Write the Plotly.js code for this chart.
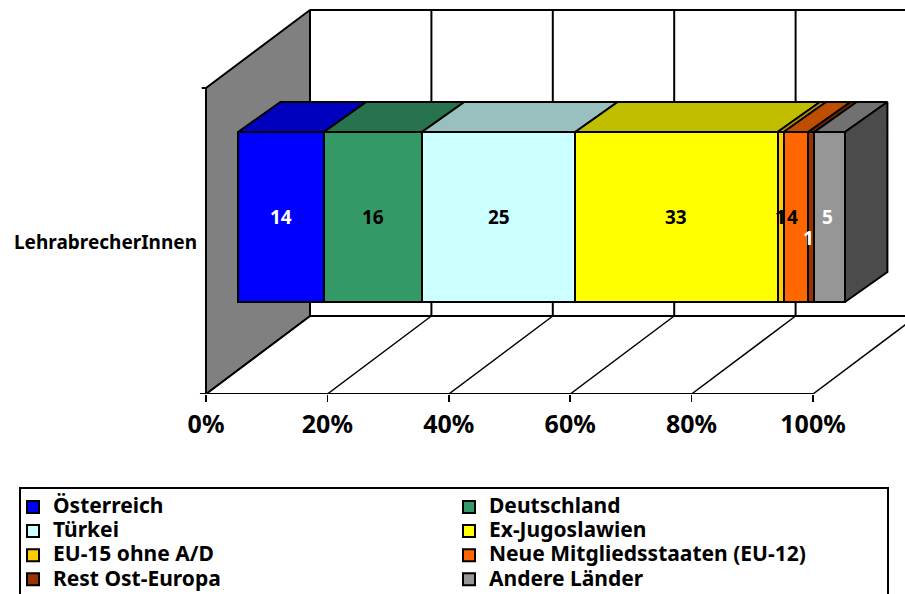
<!DOCTYPE html>
<html>
<head>
<meta charset="utf-8">
<script src="https://cdn.plot.ly/plotly-3.0.1.min.js"></script>
<style>html,body{margin:0;padding:0;background:#fff;overflow:hidden}</style>
</head>
<body>
<div id="chart" style="width:905px;height:594px"></div>
<script>
// Ausbildungsabbrecher nach Herkunft, als 100-%-Stapelbalken in Schrägprojektion
const groupLabel = 'LehrabrecherInnen';
const seriesNames = ['Österreich', 'Deutschland', 'Türkei', 'Ex-Jugoslawien',
  'EU-15 ohne A/D', 'Neue Mitgliedsstaaten (EU-12)', 'Rest Ost-Europa', 'Andere Länder'];
const seriesValues = [14, 16, 25, 33, 1, 4, 1, 5];
const seriesColors = ['#0000FF', '#339966', '#CCFFFF', '#FFFF00', '#FFCC00', '#FF6600', '#993300', '#969696'];
const labelColors = ['#FFFFFF', '#000000', '#000000', '#000000', '#000000', '#000000', '#FFFFFF', '#FFFFFF'];
const percentTicks = [0, 20, 40, 60, 80, 100];
const percentTickLabels = ['0%', '20%', '40%', '60%', '80%', '100%'];

const FONT = '"Noto Sans", sans-serif';
const W = 905, H = 594;
const X0 = 206, PX_PER_PCT = 6.07, FLOOR_Y = 394, WALL_H = 306;

// Verschiebung der Rückwand gegenüber der Vorderkante
const DEPTH_X = 104 / PX_PER_PCT, DEPTH_H = 78 / WALL_H;
// Lage des Balkens im Raum
const BAR_X = 32 / PX_PER_PCT, BAR_H0 = 92 / WALL_H, BAR_H1 = 262 / WALL_H;
const BAR_DX = 42.4 / PX_PER_PCT, BAR_DH = 30 / WALL_H;

const xRange = [-X0 / PX_PER_PCT, (W - X0) / PX_PER_PCT];
const yRange = [0, FLOOR_Y / WALL_H];

const shade = (hex, f) => {
  const n = parseInt(hex.slice(1), 16);
  const c = [n >> 16, (n >> 8) & 255, n & 255].map(v => Math.round(v * f));
  return `rgb(${c[0]},${c[1]},${c[2]})`;
};
const line = (w) => ({color: '#000', width: w});
const base = {hoverinfo: 'skip', showlegend: false, xaxis: 'x', yaxis: 'y', type: 'scatter', mode: 'lines'};

const total = seriesValues.reduce((a, b) => a + b, 0);
const shares = seriesValues.map(v => v / total * 100);
const edges = [0];
shares.forEach(s => edges.push(edges[edges.length - 1] + s));

const traces = [];

// Seitenwand links
traces.push({...base, x: [0, 0, DEPTH_X, DEPTH_X, 0], y: [0, 1, 1 + DEPTH_H, DEPTH_H, 0],
  fill: 'toself', fillcolor: '#808080', line: line(2)});

// Gitterlinien auf Boden und Rückwand
const floorX = [], floorY = [], backX = [], backY = [];
percentTicks.forEach(p => {
  floorX.push(p, p + DEPTH_X, null); floorY.push(0, DEPTH_H, null);
  if (p > 0) { backX.push(p + DEPTH_X, p + DEPTH_X, null); backY.push(DEPTH_H, 1 + DEPTH_H, null); }
});
traces.push({...base, x: floorX, y: floorY, line: line(1.5)});
traces.push({...base, x: backX, y: backY, line: line(2)});
traces.push({...base, x: [DEPTH_X, xRange[1]], y: [DEPTH_H, DEPTH_H], line: line(2)});
traces.push({...base, x: [DEPTH_X, xRange[1]], y: [1 + DEPTH_H, 1 + DEPTH_H], line: line(2)});

// Vorderkante des Bodens mit den Markierungen der Kategorieachse
traces.push({...base, x: [-1, 100], y: [0, 0], line: line(2)});
traces.push({...base, x: [-0.7, 0], y: [1, 1], line: line(2)});

// Deckflächen der Balkensegmente
shares.forEach((s, i) => {
  const a = edges[i] + BAR_X, b = edges[i + 1] + BAR_X;
  traces.push({...base,
    x: [a, b, b + BAR_DX, a + BAR_DX, a],
    y: [BAR_H1, BAR_H1, BAR_H1 + BAR_DH, BAR_H1 + BAR_DH, BAR_H1],
    fill: 'toself', fillcolor: shade(seriesColors[i], 0.75), line: line(2)});
});

// Rechte Stirnfläche des letzten Segments
const endX = edges[edges.length - 1] + BAR_X;
traces.push({...base,
  x: [endX, endX + BAR_DX, endX + BAR_DX, endX, endX],
  y: [BAR_H0, BAR_H0 + BAR_DH, BAR_H1 + BAR_DH, BAR_H1, BAR_H0],
  fill: 'toself', fillcolor: shade(seriesColors[7], 0.5), line: line(2)});

// Vorderseite: gestapelte Balken auf eigener, verschobener Achse
seriesNames.forEach((name, i) => {
  traces.push({
    type: 'bar', orientation: 'h', xaxis: 'x2', yaxis: 'y2',
    name: `<span style="font-size:21px">${name}</span>`,
    y: [groupLabel], x: [seriesValues[i]],
    marker: {color: seriesColors[i], line: {color: '#000', width: 2}},
    hoverinfo: 'x'
  });
});

const barCentre = (BAR_H0 + BAR_H1) / 2, barSpan = BAR_H1 - BAR_H0;
// Kleine Segmente bekommen versetzte Beschriftungen
const labelShift = {5: {x: -3, y: 0}, 6: {x: -3, y: -21}, 7: {x: -2, y: 0}};

const annotations = seriesValues.map((v, i) => ({
  xref: 'x2', yref: 'y2', x: (edges[i] + edges[i + 1]) / 2, y: 0,
  text: String(v), showarrow: false,
  xshift: labelShift[i] ? labelShift[i].x : 0, yshift: labelShift[i] ? labelShift[i].y : 0,
  font: {family: FONT, size: 19, color: labelColors[i], weight: 700}
}));

const layout = {
  width: W, height: H,
  margin: {l: 0, r: 0, t: 0, b: H - FLOOR_Y, pad: 0, autoexpand: false},
  paper_bgcolor: '#fff', plot_bgcolor: 'rgba(0,0,0,0)',
  barmode: 'stack', barnorm: 'percent', bargap: 0,
  xaxis: {range: xRange, showgrid: false, zeroline: false, showline: false,
    tickmode: 'array', tickvals: percentTicks, ticktext: percentTickLabels,
    ticks: 'outside', ticklen: 7, tickwidth: 1.5, tickcolor: '#000',
    ticklabelstandoff: 1,
    tickfont: {family: FONT, size: 25, color: '#000', weight: 700}},
  yaxis: {range: yRange, showgrid: false, zeroline: false, showline: false,
    anchor: 'free', position: X0 / W,
    tickmode: 'array', tickvals: [0.494], ticktext: [groupLabel],
    ticks: '', ticklabelstandoff: 9,
    tickfont: {family: FONT, size: 19, color: '#000', weight: 700}},
  xaxis2: {overlaying: 'x', visible: false, anchor: 'y2',
    range: [xRange[0] - BAR_X, xRange[1] - BAR_X]},
  yaxis2: {overlaying: 'y', visible: false, anchor: 'x2', type: 'category',
    range: [(yRange[0] - barCentre) / barSpan, (yRange[1] - barCentre) / barSpan]},
  annotations,
  // Rahmen der Legende, unten vom Seitenrand abgeschnitten
  shapes: [{type: 'rect', xref: 'paper', yref: 'paper', layer: 'above',
    x0: 20 / W, x1: 888 / W, y0: (FLOOR_Y - 620) / FLOOR_Y, y1: (FLOOR_Y - 488) / FLOOR_Y,
    line: {color: '#000', width: 2}, fillcolor: 'rgba(0,0,0,0)'}],
  showlegend: true,
  legend: {orientation: 'h', x: 11 / W, xanchor: 'left', y: (FLOOR_Y - 488) / FLOOR_Y, yanchor: 'top',
    traceorder: 'normal', entrywidthmode: 'pixels', entrywidth: 391,
    borderwidth: 2, bordercolor: 'rgba(0,0,0,0)', bgcolor: 'rgba(0,0,0,0)',
    font: {family: FONT, size: 16.2, color: '#000', weight: 700}}
};

Plotly.newPlot('chart', traces, layout, {displayModeBar: false, staticPlot: true});
</script>
</body>
</html>
